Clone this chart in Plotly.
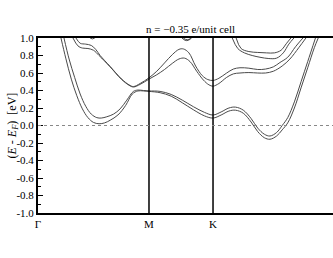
import plotly.graph_objects as go

# high-symmetry points (path length units, Gamma-M = 1)
kpt_pos = [0.0, 1.0, 1.577]
kpt_lab = ["Γ", "M", "K"]
x_max = 2.658

# band A (lowest, two spin copies)
a1_k = [0.207, 0.25, 0.30, 0.35, 0.40, 0.45, 0.50, 0.55, 0.60, 0.65, 0.72, 0.79, 0.85, 0.90, 0.95, 1.0,
        1.1, 1.2, 1.3, 1.4, 1.5, 1.577, 1.65, 1.72, 1.78, 1.85, 1.92, 1.98, 2.04, 2.09, 2.15, 2.20, 2.25,
        2.31, 2.37, 2.43, 2.49, 2.525]
a1_e = [1.0, 0.77, 0.53, 0.34, 0.19, 0.09, 0.035, 0.02, 0.03, 0.06, 0.12, 0.23, 0.36, 0.395, 0.395, 0.39,
        0.375, 0.335, 0.26, 0.18, 0.11, 0.085, 0.12, 0.165, 0.175, 0.14, 0.04, -0.07, -0.14, -0.157, -0.12,
        -0.05, 0.03, 0.20, 0.43, 0.66, 0.89, 1.0]
a2_k = [0.234, 0.28, 0.33, 0.38, 0.43, 0.48, 0.53, 0.57, 0.62, 0.68, 0.74, 0.80, 0.86, 0.90, 0.95, 1.0,
        1.1, 1.2, 1.3, 1.4, 1.5, 1.577, 1.65, 1.72, 1.78, 1.85, 1.92, 1.98, 2.04, 2.09, 2.15, 2.20, 2.25,
        2.31, 2.37, 2.43, 2.50]
a2_e = [1.0, 0.76, 0.55, 0.36, 0.22, 0.13, 0.09, 0.085, 0.10, 0.13, 0.19, 0.29, 0.39, 0.405, 0.40, 0.395,
        0.39, 0.355, 0.29, 0.215, 0.15, 0.12, 0.155, 0.20, 0.21, 0.175, 0.08, -0.03, -0.10, -0.12, -0.08,
        0.0, 0.09, 0.27, 0.50, 0.73, 1.0]

# band B
b1_k = [0.315, 0.36, 0.40, 0.45, 0.50, 0.55, 0.65, 0.75, 0.82, 0.86, 0.92, 1.0, 1.07, 1.14, 1.21, 1.27,
        1.32, 1.37, 1.43, 1.49, 1.54, 1.577, 1.63, 1.70, 1.76, 1.82, 1.90, 1.98, 2.05, 2.12, 2.20, 2.27,
        2.35, 2.414]
b1_e = [1.0, 0.91, 0.885, 0.88, 0.86, 0.80, 0.67, 0.53, 0.46, 0.44, 0.47, 0.53, 0.58, 0.64, 0.71, 0.76,
        0.77, 0.73, 0.62, 0.52, 0.465, 0.45, 0.48, 0.55, 0.59, 0.60, 0.605, 0.60, 0.60, 0.62, 0.68, 0.76,
        0.89, 1.0]
b2_k = [0.342, 0.38, 0.43, 0.48, 0.52, 0.56, 0.65, 0.75, 0.82, 0.86, 0.92, 1.0, 1.07, 1.14, 1.21, 1.27,
        1.31, 1.36, 1.42, 1.48, 1.53, 1.577, 1.63, 1.70, 1.76, 1.82, 1.90, 1.98, 2.05, 2.12, 2.18, 2.25,
        2.32, 2.387]
b2_e = [1.0, 0.94, 0.93, 0.915, 0.87, 0.80, 0.675, 0.535, 0.465, 0.445, 0.48, 0.545, 0.62, 0.715, 0.81,
        0.87, 0.875, 0.83, 0.68, 0.57, 0.525, 0.515, 0.54, 0.60, 0.645, 0.66, 0.655, 0.64, 0.645, 0.67,
        0.72, 0.78, 0.90, 1.0]

# band C (near the top, beyond K)
c1_k = [1.75, 1.80, 1.86, 1.93, 2.00, 2.08, 2.15, 2.21, 2.26, 2.306]
c1_e = [1.0, 0.88, 0.83, 0.80, 0.78, 0.765, 0.77, 0.83, 0.93, 1.0]
c2_k = [1.785, 1.83, 1.90, 1.98, 2.06, 2.13, 2.19, 2.24, 2.279]
c2_e = [1.0, 0.88, 0.845, 0.835, 0.83, 0.83, 0.86, 0.94, 1.0]

# small dips touching the top edge
d1_k = [1.28, 1.31, 1.34, 1.37, 1.40]
d1_e = [1.03, 0.985, 0.97, 0.985, 1.03]
d2_k = [1.29, 1.315, 1.345, 1.375, 1.405]
d2_e = [1.03, 0.995, 0.98, 0.995, 1.03]
e1_k = [0.45, 0.49, 0.53]
e1_e = [1.02, 0.99, 1.02]

bands = [(a1_k, a1_e), (a2_k, a2_e), (b1_k, b1_e), (b2_k, b2_e), (c1_k, c1_e), (c2_k, c2_e),
         (d1_k, d1_e), (d2_k, d2_e), (e1_k, e1_e)]

y_ticks = [-1.0, -0.8, -0.6, -0.4, -0.2, 0.0, 0.2, 0.4, 0.6, 0.8, 1.0]
y_ticktext = ["-1.0", "-0.8", "-0.6", "-0.4", "-0.2", "0.0", "0.2", "0.4", "0.6", "0.8", "1.0"]
y_minor = [-0.9, -0.7, -0.5, -0.3, -0.1, 0.1, 0.3, 0.5, 0.7, 0.9]

FONT = "Liberation Serif, Times New Roman, serif"

fig = go.Figure()
for k, e in bands:
    fig.add_trace(go.Scatter(x=k, y=e, mode="lines",
                             line=dict(color="#4a4a4a", width=1, shape="spline", smoothing=1.0),
                             hoverinfo="skip", showlegend=False))

for kp in kpt_pos[1:]:
    fig.add_shape(type="line", xref="x", yref="paper", x0=kp, x1=kp, y0=0, y1=1,
                  line=dict(color="black", width=1.5))
fig.add_shape(type="line", xref="paper", yref="y", x0=0, x1=1, y0=0, y1=0,
              line=dict(color="#888888", width=1, dash="dot"))

fig.update_layout(
    width=333, height=258,
    margin=dict(l=38, r=0, t=38, b=45),
    paper_bgcolor="white", plot_bgcolor="white",
    font=dict(family=FONT, size=11, color="black"),
    showlegend=False,
    xaxis=dict(range=[0, x_max], tickmode="array", tickvals=kpt_pos, ticktext=kpt_lab,
               showline=True, mirror=True, linecolor="black", linewidth=2, ticks="",
               showgrid=False, zeroline=False, tickfont=dict(family=FONT, size=11)),
    yaxis=dict(range=[-1.0, 1.0], tickmode="array", tickvals=y_ticks, ticktext=y_ticktext,
               showline=True, mirror=False, linecolor="black", linewidth=2,
               ticks="inside", ticklen=5, tickwidth=1, tickcolor="black",
               minor=dict(tickmode="array", tickvals=y_minor, ticks="inside", ticklen=3,
                          tickwidth=1, tickcolor="black", showgrid=False),
               showgrid=False, zeroline=False, tickfont=dict(family=FONT, size=11)),
    annotations=[
        dict(text="n = \u22120.35 e/unit cell", xref="paper", yref="paper",
             x=(190 - 38) / 295, y=1.0, xanchor="center", yanchor="bottom", yshift=1,
             showarrow=False, font=dict(family=FONT, size=11)),
        dict(text="(<i>E</i> - <i>E</i><sub><i>F</i></sub>)&nbsp;&nbsp;[eV]",
             xref="paper", yref="paper", x=(12 - 38) / 295, y=0.5, xanchor="center",
             yanchor="middle", textangle=-90, showarrow=False, font=dict(family=FONT, size=12)),
    ],
)

fig.write_html("out.html", config={"displayModeBar": False},
               post_script="document.body.style.margin='0';document.body.style.overflow='hidden';")
